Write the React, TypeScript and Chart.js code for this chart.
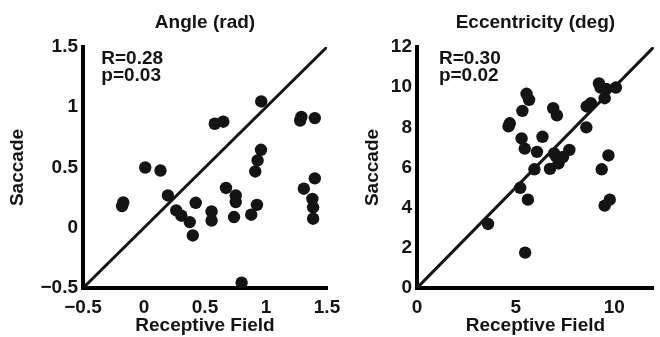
import React, { useEffect, useRef } from 'react';
import { Chart, registerables } from 'chart.js';

Chart.register(...registerables);

const FONT = '"Liberation Sans", Arial, Helvetica, sans-serif';
const INK = '#141414';
const FS = 19;

// ---- Panel 1: Angle (rad) ----
const angleRF = [-0.18, -0.17, 0.01, 0.135, 0.196, 0.264, 0.306, 0.375, 0.4, 0.424, 0.554, 0.554, 0.58, 0.65, 0.672, 0.752, 0.752, 0.738, 0.8, 0.879, 0.926, 0.912, 0.931, 0.959, 0.961, 1.28, 1.29, 1.4, 1.31, 1.4, 1.38, 1.386, 1.386];
const angleSac = [0.18, 0.21, 0.5, 0.475, 0.268, 0.144, 0.1, 0.047, -0.064, 0.207, 0.135, 0.06, 0.863, 0.88, 0.33, 0.268, 0.213, 0.089, -0.456, 0.108, 0.19, 0.467, 0.559, 0.647, 1.048, 0.89, 0.92, 0.91, 0.324, 0.41, 0.24, 0.17, 0.075];
const angleTickValues = [-0.5, 0, 0.5, 1, 1.5];
const angleTickLabels = ['\u22120.5', '0', '0.5', '1', '1.5'];
const angleStats = ['R=0.28', 'p=0.03'];

// ---- Panel 2: Eccentricity (deg) ----
const eccRF = [3.6, 5.48, 5.23, 5.62, 5.95, 4.64, 4.7, 5.34, 5.55, 5.68, 5.3, 5.46, 6.08, 6.36, 6.9, 7.09, 6.74, 6.95, 7.05, 7.17, 7.4, 7.72, 8.58, 8.6, 8.81, 9.22, 9.3, 9.51, 9.59, 10.08, 9.7, 9.36, 9.77, 9.51];
const eccSac = [3.19, 1.76, 4.99, 4.4, 5.91, 8.05, 8.2, 8.82, 9.67, 9.37, 7.45, 6.94, 6.78, 7.53, 8.95, 8.6, 5.93, 6.7, 6.55, 6.2, 6.52, 6.88, 8.0, 9.04, 9.2, 10.19, 9.98, 9.45, 9.91, 9.98, 6.6, 5.91, 4.4, 4.1];
const eccXTickValues = [0, 5, 10];
const eccXTickLabels = ['0', '5', '10'];
const eccYTickValues = [0, 2, 4, 6, 8, 10, 12];
const eccYTickLabels = ['0', '2', '4', '6', '8', '10', '12'];
const eccStats = ['R=0.30', 'p=0.02'];

const statsPlugin = {
  id: 'stats',
  afterDatasetsDraw(chart: any, _args: any, opts: any) {
    const { ctx } = chart;
    const xs = chart.scales.x;
    const ys = chart.scales.y;
    ctx.save();
    ctx.font = `bold ${FS}px ${FONT}`;
    ctx.fillStyle = INK;
    ctx.textAlign = 'left';
    ctx.textBaseline = 'middle';
    opts.lines.forEach((t: string, i: number) => {
      ctx.fillText(t, xs.getPixelForValue(opts.x), ys.getPixelForValue(opts.ys[i]));
    });
    ctx.restore();
  },
};

interface PanelSpec {
  title: string;
  rf: number[];
  sac: number[];
  min: number;
  xMax: number;
  yMax: number;
  xTicks: number[];
  xLabels: string[];
  yTicks: number[];
  yLabels: string[];
  stats: string[];
  statX: number;
  statYs: number[];
  yAxisWidth: number;
  rightPad: number;
  yTitlePad: number;
}

function buildConfig(p: PanelSpec): any {
  const font = { family: FONT, size: FS, weight: 'bold' as const };
  const zeroPad = (s: any) => {
    s.paddingLeft = 0;
    s.paddingRight = 0;
    s.paddingTop = 0;
    s.paddingBottom = 0;
  };
  return {
    type: 'scatter',
    data: {
      datasets: [
        {
          data: p.rf.map((x, i) => ({ x, y: p.sac[i] })),
          backgroundColor: INK,
          borderWidth: 0,
          pointRadius: 6.2,
          pointHoverRadius: 6.2,
        },
        {
          data: [
            { x: p.min, y: p.min },
            { x: Math.min(p.xMax, p.yMax), y: Math.min(p.xMax, p.yMax) },
          ],
          showLine: true,
          borderColor: INK,
          borderWidth: 3,
          pointRadius: 0,
          fill: false,
        },
      ],
    },
    options: {
      responsive: false,
      animation: false,
      events: [],
      layout: { padding: { left: 0, right: p.rightPad, top: 0, bottom: 0 } },
      plugins: {
        legend: { display: false },
        tooltip: { enabled: false },
        title: {
          display: true,
          text: p.title,
          color: INK,
          font,
          fullSize: false,
          padding: { top: 11.6, bottom: 12.6 },
        },
        stats: { lines: p.stats, x: p.statX, ys: p.statYs },
      },
      scales: {
        x: {
          type: 'linear',
          min: p.min,
          max: p.xMax,
          afterBuildTicks: (s: any) => {
            s.ticks = p.xTicks.map((v) => ({ value: v }));
          },
          afterFit: (s: any) => {
            s.height = 49;
            zeroPad(s);
          },
          ticks: {
            autoSkip: false,
            maxRotation: 0,
            padding: 8,
            color: INK,
            font,
            callback: (v: any) => p.xLabels[p.xTicks.indexOf(Number(v))] ?? '',
          },
          grid: { display: false, drawTicks: false },
          border: { display: true, color: '#000', width: 4 },
          title: {
            display: true,
            text: 'Receptive Field',
            color: INK,
            font,
            padding: { top: 0, bottom: -0.4 },
          },
        },
        y: {
          type: 'linear',
          min: p.min,
          max: p.yMax,
          afterBuildTicks: (s: any) => {
            s.ticks = p.yTicks.map((v) => ({ value: v }));
          },
          afterFit: (s: any) => {
            s.width = p.yAxisWidth;
            zeroPad(s);
          },
          ticks: {
            autoSkip: false,
            padding: 5,
            color: INK,
            font,
            callback: (v: any) => p.yLabels[p.yTicks.indexOf(Number(v))] ?? '',
          },
          grid: { display: false, drawTicks: false },
          border: { display: true, color: '#000', width: 4 },
          title: {
            display: true,
            text: 'Saccade',
            color: INK,
            font,
            padding: { top: p.yTitlePad, bottom: 0 },
          },
        },
      },
    },
    plugins: [statsPlugin],
  };
}

const leftSpec: PanelSpec = {
  title: 'Angle (rad)',
  rf: angleRF,
  sac: angleSac,
  min: -0.5,
  xMax: 1.5,
  yMax: 1.5,
  xTicks: angleTickValues,
  xLabels: angleTickLabels,
  yTicks: angleTickValues,
  yLabels: angleTickLabels,
  stats: angleStats,
  statX: -0.35,
  statYs: [1.405, 1.263],
  yAxisWidth: 83,
  rightPad: 18,
  yTitlePad: 6.6,
};

const rightSpec: PanelSpec = {
  title: 'Eccentricity (deg)',
  rf: eccRF,
  sac: eccSac,
  min: 0,
  xMax: 12,
  yMax: 12,
  xTicks: eccXTickValues,
  xLabels: eccXTickLabels,
  yTicks: eccYTickValues,
  yLabels: eccYTickLabels,
  stats: eccStats,
  statX: 1.11,
  statYs: [11.43, 10.56],
  yAxisWidth: 87,
  rightPad: 0,
  yTitlePad: 31.1,
};

function Panel({ spec, left, width }: { spec: PanelSpec; left: number; width: number }) {
  const ref = useRef<HTMLCanvasElement | null>(null);
  useEffect(() => {
    if (!ref.current) return;
    const chart = new Chart(ref.current, buildConfig(spec));
    return () => chart.destroy();
  }, [spec]);
  return (
    <canvas
      ref={ref}
      width={width}
      height={337}
      style={{ position: 'absolute', left, top: 0, width, height: 337 }}
    />
  );
}

export default function App() {
  return (
    <div
      style={{
        position: 'fixed',
        left: 0,
        top: 0,
        width: 660,
        height: 337,
        background: '#ffffff',
        overflow: 'hidden',
      }}
    >
      <Panel spec={leftSpec} left={0} width={345} />
      <Panel spec={rightSpec} left={330} width={330} />
    </div>
  );
}
